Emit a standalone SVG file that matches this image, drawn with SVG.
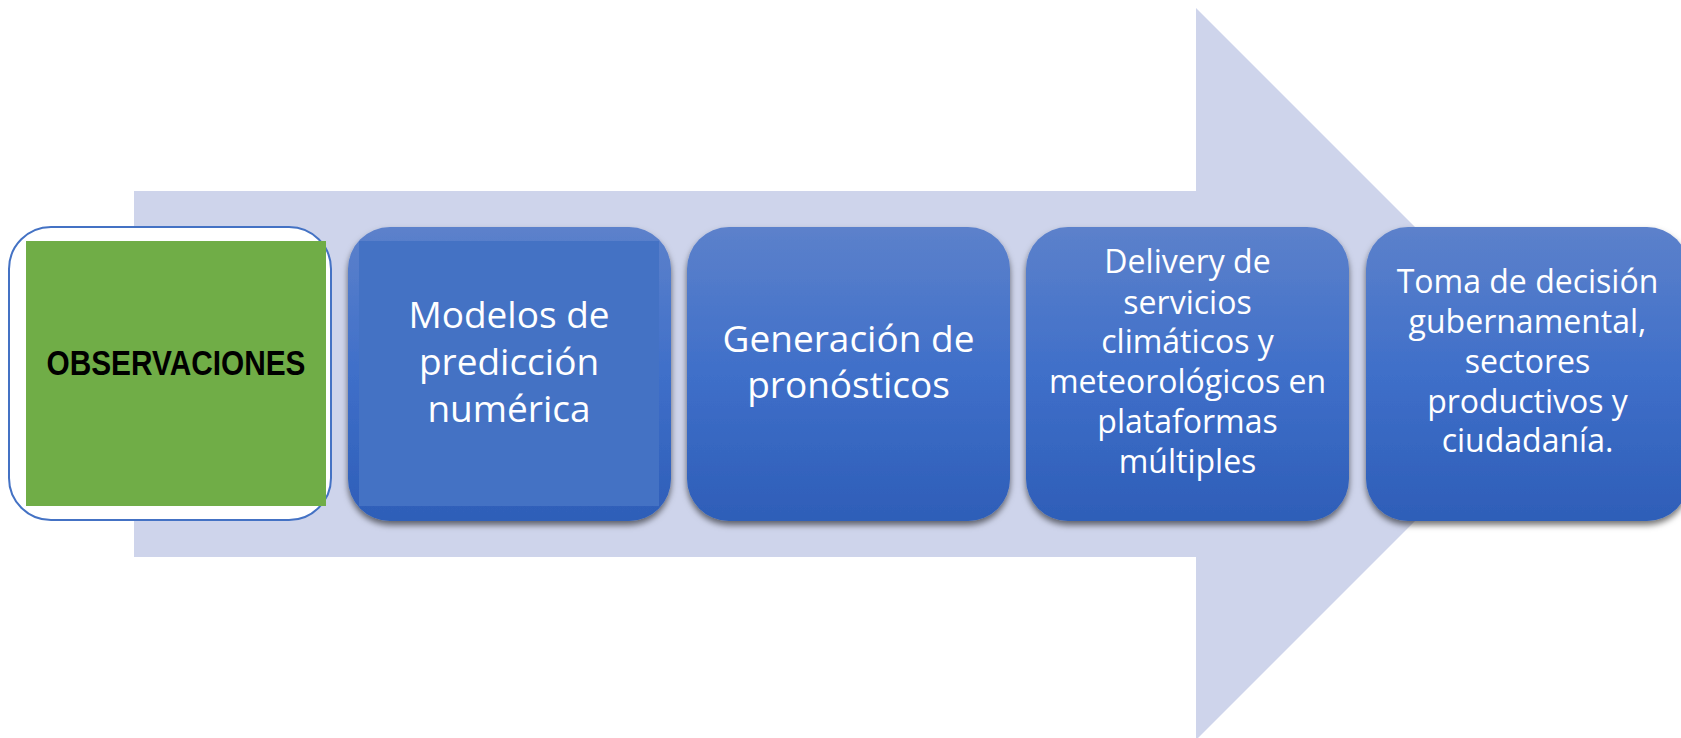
<svg xmlns="http://www.w3.org/2000/svg" width="1681" height="738" viewBox="0 0 1681 738">
<defs>
<linearGradient id="bg" x1="0" y1="0" x2="0" y2="1">
<stop offset="0" stop-color="#5C81CB"/>
<stop offset="0.5" stop-color="#3F6FC9"/>
<stop offset="1" stop-color="#2E5EB8"/>
</linearGradient>
<filter id="sh" x="-10%" y="-10%" width="120%" height="125%">
<feDropShadow dx="0" dy="4" stdDeviation="3" flood-color="#000" flood-opacity="0.55"/>
</filter>
<style>
.box{fill:url(#bg);filter:url(#sh)}
.t{font-family:"Open Sans","Liberation Sans",sans-serif;fill:#fff;text-anchor:middle}
.big{font-size:37px}
.sm{font-size:32px}
</style>
</defs>
<rect width="1681" height="738" fill="#fff"/>
<g id="connectors">
<path d="M134,191 H1196 V8 L1562,374 L1196,740 V557 H134 Z" fill="#CED4EB"/>
</g>
<g id="n1">
<rect x="9" y="227" width="322" height="293" rx="42" fill="#fff" stroke="#4472C4" stroke-width="2"/>
<rect x="26" y="241" width="300" height="265" fill="#70AD47"/>
<text x="176" y="375" font-family="'Liberation Sans',Arial,sans-serif" font-weight="bold" font-size="35" fill="#000" text-anchor="middle" textLength="259" lengthAdjust="spacingAndGlyphs">OBSERVACIONES</text>
</g>
<g id="n2">
<rect class="box" x="348" y="227" width="323" height="294" rx="42"/>
<rect x="359" y="241" width="300" height="265" fill="#4472C4"/>
<text class="t big" x="509"><tspan x="509" y="328">Modelos de</tspan><tspan x="509" y="375">predicción</tspan><tspan x="509" y="422">numérica</tspan></text>
</g>
<g id="n3">
<rect class="box" x="687" y="227" width="323" height="294" rx="42"/>
<text class="t big" x="848.5"><tspan x="848.5" y="352">Generación de</tspan><tspan x="848.5" y="398">pronósticos</tspan></text>
</g>
<g id="n4">
<rect class="box" x="1026" y="227" width="323" height="294" rx="42"/>
<text class="t sm" x="1187.5"><tspan x="1187.5" y="273">Delivery de</tspan><tspan x="1187.5" y="314">servicios</tspan><tspan x="1187.5" y="353">climáticos y</tspan><tspan x="1187.5" y="393">meteorológicos en</tspan><tspan x="1187.5" y="433">plataformas</tspan><tspan x="1187.5" y="473">múltiples</tspan></text>
</g>
<g id="n5">
<rect class="box" x="1366" y="227" width="323" height="294" rx="42"/>
<text class="t sm" x="1527.5"><tspan x="1527.5" y="293">Toma de decisión</tspan><tspan x="1527.5" y="333">gubernamental,</tspan><tspan x="1527.5" y="373">sectores</tspan><tspan x="1527.5" y="413">productivos y</tspan><tspan x="1527.5" y="452">ciudadanía.</tspan></text>
</g>
</svg>
